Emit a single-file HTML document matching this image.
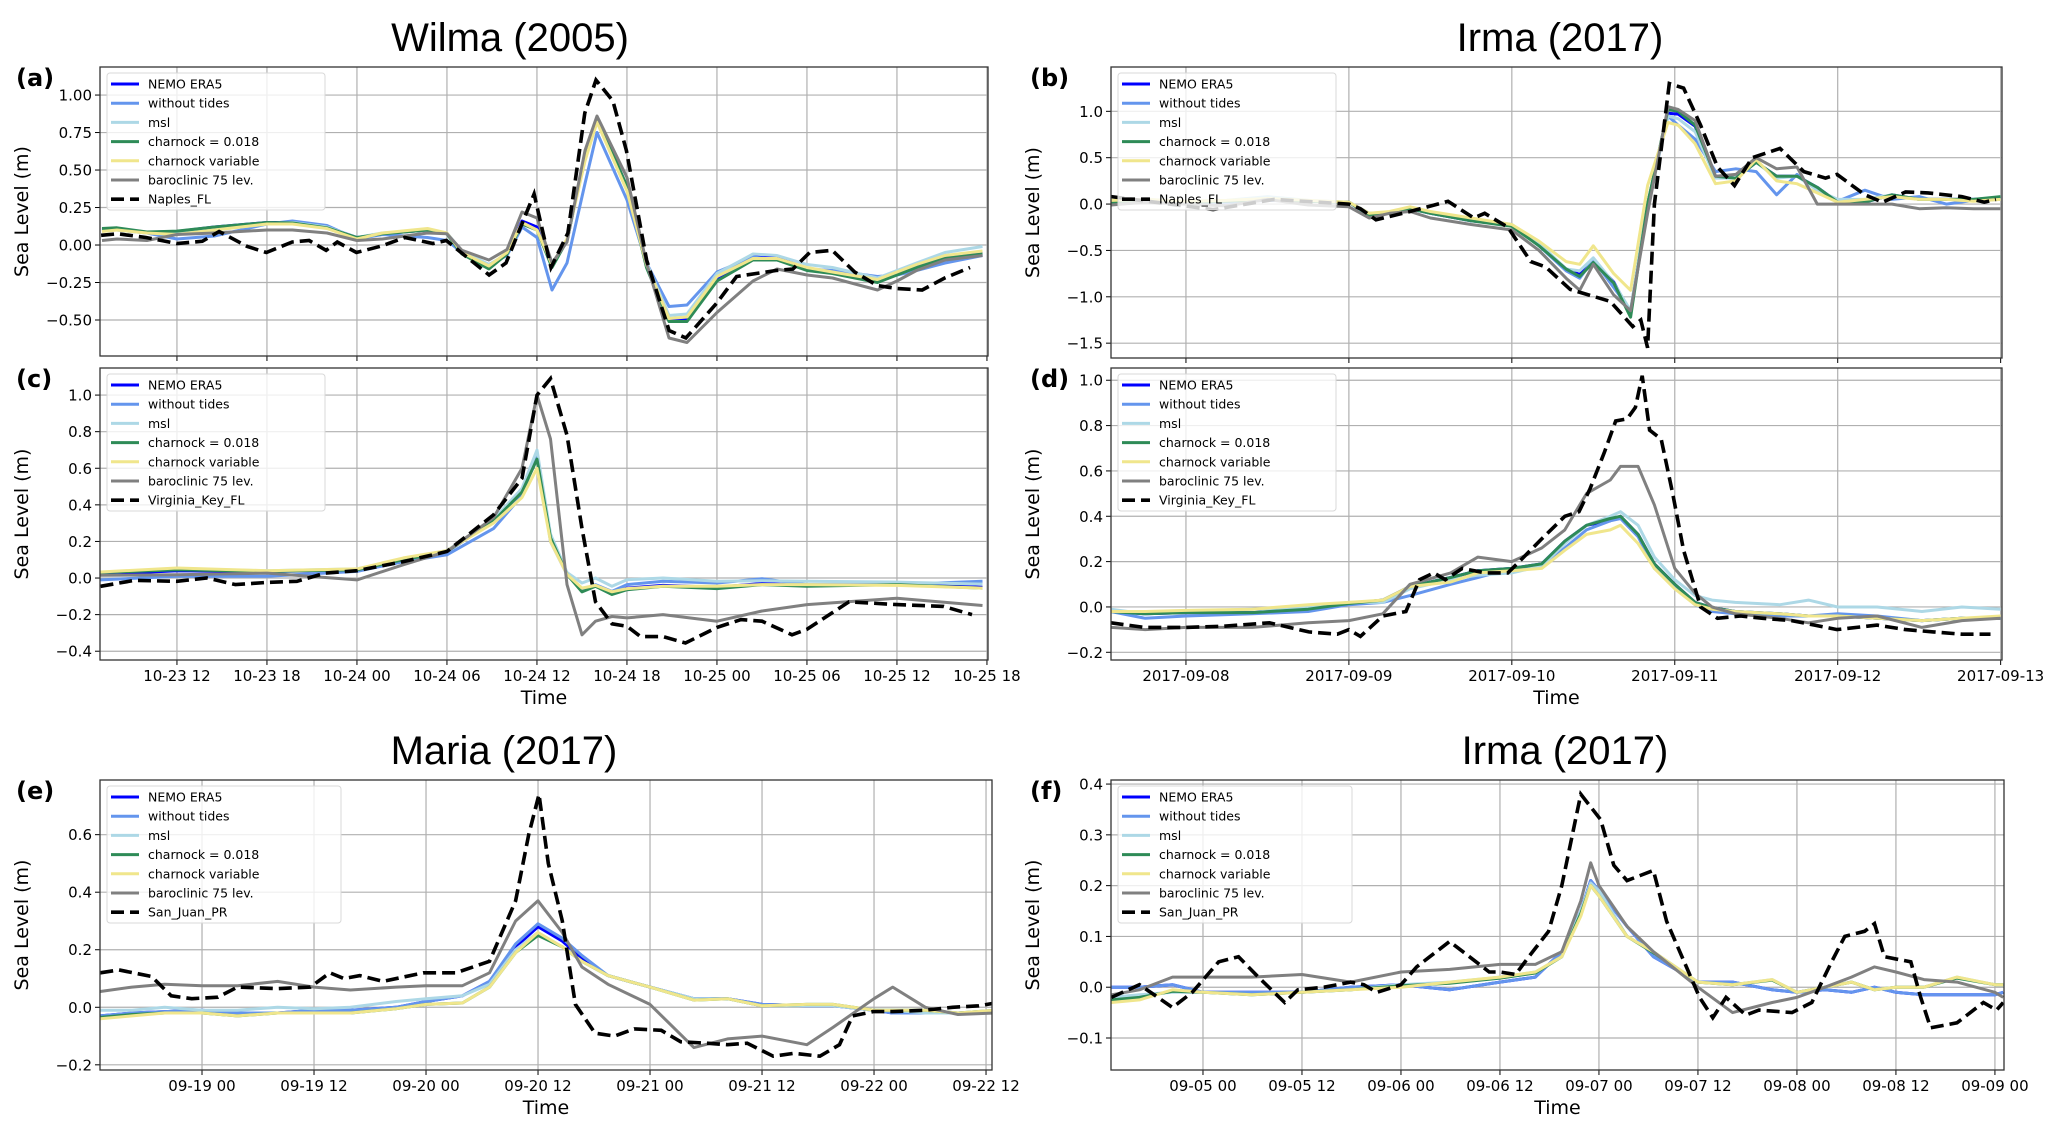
<!DOCTYPE html>
<html><head><meta charset="utf-8"><style>
html,body{margin:0;padding:0;background:#fff;}
svg{display:block;}
text{font-family:"DejaVu Sans","Liberation Sans",sans-serif;fill:#000;}
.title{font-family:"Liberation Sans",sans-serif;font-size:40px;}
</style></head><body>
<svg id="fig" width="2067" height="1134" viewBox="0 0 2067 1134" xmlns="http://www.w3.org/2000/svg">
<rect width="2067" height="1134" fill="#fff"/>
<text class="title" x="510" y="51" text-anchor="middle">Wilma (2005)</text>
<text class="title" x="1560" y="51" text-anchor="middle">Irma (2017)</text>
<text class="title" x="504" y="764" text-anchor="middle">Maria (2017)</text>
<text class="title" x="1565" y="764" text-anchor="middle">Irma (2017)</text>
</svg>
<script>
// ===== Panel (a) Wilma, Naples_FL (hours from 10-23 00) =====
const aHours=[7,8,10,12,14.5,18,19.7,22,24,25.7,28.7,30,31,32.8,34,35,36,37,38,39.2,40,42,43.3,44.8,46,48,50.4,52,54,55.7,58.7,60,61.3,63.2,65.7];
const aNemo=[.10,.11,.085,.09,.12,.15,.15,.12,.05,.075,.10,.075,-.05,-.14,-.06,.16,.12,-.13,.03,.6,.84,.39,-.14,-.49,-.49,-.22,-.08,-.08,-.16,-.18,-.22,-.18,-.14,-.08,-.06];
const aNoTides=[.10,.10,.08,.04,.06,.14,.16,.13,.04,.07,.05,.03,-.05,-.13,-.07,.12,.05,-.30,-.12,.41,.75,.30,-.12,-.41,-.40,-.18,-.08,-.10,-.16,-.17,-.21,-.20,-.17,-.12,-.07];
const aMsl=[.10,.10,.08,.08,.10,.14,.15,.12,.05,.08,.10,.08,-.04,-.13,-.06,.14,.10,-.13,.03,.58,.82,.38,-.12,-.47,-.46,-.19,-.06,-.07,-.13,-.15,-.22,-.17,-.12,-.05,-.01];
const aCharnock=[.11,.115,.087,.093,.12,.15,.147,.115,.05,.075,.10,.075,-.06,-.16,-.06,.14,.10,-.15,.03,.59,.85,.39,-.15,-.51,-.51,-.24,-.10,-.10,-.17,-.19,-.25,-.20,-.15,-.09,-.06];
const aCharnockVar=[.09,.10,.08,.07,.10,.14,.14,.11,.04,.08,.11,.08,-.05,-.14,-.05,.15,.10,-.13,.04,.56,.82,.36,-.13,-.49,-.48,-.21,-.09,-.09,-.15,-.18,-.23,-.18,-.13,-.07,-.04];
const aBaroclinic=[.03,.04,.03,.07,.08,.10,.10,.08,.03,.04,.08,.075,-.035,-.10,-.03,.22,.18,-.12,.02,.63,.86,.45,-.12,-.62,-.65,-.45,-.24,-.16,-.20,-.22,-.30,-.24,-.17,-.10,-.07];
const aObsHours=[6.94,8.06,9.94,12,13.69,14.81,16.69,17.96,19.69,20.81,21.94,22.69,23.96,25.69,27.19,29.06,29.96,30.94,32.81,33.94,35.81,36.94,38.06,39.19,39.94,41.06,41.96,43.31,44.81,45.93,47.96,49.31,51.93,53.06,54.18,55.68,57.18,58.68,59.96,61.68,63.18,64.87];
const aObs=[.065,.075,.05,.01,.025,.09,-.01,-.05,.02,.03,-.035,.02,-.05,-.005,.05,.01,.03,-.05,-.2,-.12,.34,-.15,.08,.88,1.10,.96,.63,-.1,-.57,-.62,-.39,-.21,-.17,-.16,-.05,-.035,-.18,-.27,-.29,-.30,-.22,-.15];
const wilmaTickHours=[12,18,24,30,36,42,48,54,60,66];
const wilmaTickLabels=["10-23 12","10-23 18","10-24 00","10-24 06","10-24 12","10-24 18","10-25 00","10-25 06","10-25 12","10-25 18"];
const aYTicks=[-0.5,-0.25,0,0.25,0.5,0.75,1.0];

// ===== Panel (b) Irma, Naples_FL (hours from 2017-09-08 00) =====
const bHours=[-11,-6,0,6,12,18,24,27,30,33,36,42,48,52,56,58,60,63,65.5,68,71,72.5,75,78,81,84,87,90,93,96,100,104,108,112,116,120];
const bNemo=[.02,.03,.02,.03,.05,.03,.02,-.12,-.10,-.05,-.10,-.18,-.23,-.44,-.70,-.76,-.61,-.84,-1.18,.0,.98,.97,.84,.3,.28,.45,.3,.3,.18,.02,.02,.1,.05,.05,.05,.07];
const bNoTides=[.02,.03,.02,.02,.04,.03,.02,-.10,-.10,-.05,-.10,-.18,-.22,-.45,-.72,-.80,-.60,-.90,-1.15,.0,.95,.85,.70,.35,.38,.35,.10,.32,.15,.03,.15,.05,.08,.0,.04,.05];
const bMsl=[.03,.05,.03,.04,.08,.04,.02,-.10,-.09,-.05,-.10,-.16,-.22,-.42,-.70,-.72,-.58,-.85,-1.15,.0,.95,.92,.78,.28,.28,.45,.28,.30,.15,.05,.05,.10,.05,.05,.05,.06];
const bCharnock=[.02,.03,.02,.03,.05,.03,.02,-.12,-.10,-.05,-.10,-.18,-.24,-.45,-.70,-.78,-.63,-.85,-1.22,.0,1.02,1.0,.85,.3,.28,.45,.30,.30,.18,.02,.02,.10,.05,.05,.05,.08];
const bCharnockVar=[.04,.05,.03,.04,.06,.04,.02,-.10,-.08,-.03,-.08,-.15,-.22,-.40,-.62,-.65,-.45,-.75,-.93,.2,.88,.85,.65,.22,.25,.48,.25,.22,.12,.02,.05,.08,.05,.05,.03,.05];
const bBaroclinic=[-.01,.02,.0,-.02,.05,-.01,-.03,-.15,-.10,-.08,-.15,-.22,-.28,-.50,-.80,-.93,-.65,-.98,-1.15,-.1,1.05,1.02,.90,.30,.32,.50,.38,.40,.0,.0,.0,.0,-.05,-.04,-.05,-.05];
const bObsHours=[-11,4,13,24,25.7,28,33,38.6,42.4,44,47.4,50.8,53,56.6,62.5,65.8,67,68,69,71.2,73.3,75.8,78.3,80.8,83.4,87.5,91,94.2,95.9,100,102.6,106,109.3,114.3,117.6,119.3];
const bObs=[.08,-.06,.05,.0,-.05,-.17,-.08,.03,-.15,-.10,-.25,-.62,-.68,-.92,-1.05,-1.32,-1.25,-1.55,.0,1.30,1.25,.85,.40,.20,.50,.60,.35,.28,.32,.10,.02,.13,.12,.08,.02,.05];
const irmaTickHours=[0,24,48,72,96,120];
const irmaTickLabels=["2017-09-08","2017-09-09","2017-09-10","2017-09-11","2017-09-12","2017-09-13"];
const bYTicks=[-1.5,-1.0,-0.5,0,0.5,1.0];

// ===== Panel (c) Wilma, Virginia_Key_FL =====
const cHours=[6.9,12,18,24,27.1,30,33.1,35,36,36.9,38,39,39.9,41,42,44.4,48,51,54,60,65.7];
const cNemo=[.02,.04,.035,.045,.10,.145,.31,.47,.66,.22,.02,-.065,-.04,-.08,-.055,-.04,-.05,-.03,-.04,-.035,-.05];
const cNoTides=[-.01,.01,.01,.036,.09,.127,.27,.45,.68,.20,.02,-.064,-.036,-.073,-.036,-.018,-.027,-.004,-.036,-.036,-.018];
const cMsl=[.03,.05,.04,.05,.10,.15,.32,.49,.70,.24,.03,-.027,.0,-.045,-.009,.0,-.018,-.015,-.018,-.022,-.033];
const cCharnock=[.03,.045,.036,.045,.10,.145,.31,.47,.65,.22,.02,-.076,-.045,-.09,-.064,-.045,-.058,-.036,-.045,-.036,-.055];
const cCharnockVar=[.033,.055,.04,.05,.11,.15,.30,.44,.60,.20,.02,-.055,-.04,-.075,-.058,-.045,-.045,-.036,-.036,-.04,-.055];
const cBaroclinic=[.015,.018,.027,-.01,.073,.145,.33,.60,1.0,.76,-.036,-.31,-.236,-.21,-.218,-.2,-.236,-.18,-.145,-.11,-.15];
const cObsHours=[6.9,9.15,12,14,15.9,18,20,21.9,24,27.1,30,33.1,35,36,36.9,38,39,39.9,41,42,42.9,44.4,45.9,48,49.6,51,53,54,56.8,60,63.1,65];
const cObs=[-.045,-.013,-.018,0,-.036,-.024,-.018,.027,.04,.09,.145,.345,.545,1.0,1.09,.78,.27,-.13,-.25,-.264,-.32,-.32,-.355,-.27,-.227,-.236,-.31,-.28,-.13,-.145,-.155,-.2];
const cYTicks=[-0.4,-0.2,0,0.2,0.4,0.6,0.8,1.0];

// ===== Panel (d) Irma, Virginia_Key_FL =====
const dHours=[-11.1,-6,0,9.8,18,24,29,33,39,43,48,52.4,55.8,59,62.5,64,66.6,69,72,75,77.5,80.9,87.5,91.7,96,101.8,108.4,114.3,120];
const dNemo=[-.02,-.03,-.025,-.025,-.01,.015,.03,.09,.13,.16,.17,.19,.29,.36,.38,.40,.32,.19,.10,.02,-.003,-.02,-.03,-.04,-.04,-.05,-.06,-.05,-.05];
const dNoTides=[-.02,-.05,-.04,-.03,-.02,.01,.02,.05,.10,.13,.17,.18,.26,.34,.38,.39,.31,.17,.09,.01,-.02,-.03,-.04,-.04,-.03,-.04,-.06,-.05,-.05];
const dMsl=[-.01,-.03,-.02,-.01,.0,.02,.02,.08,.12,.14,.15,.18,.28,.36,.40,.42,.36,.22,.12,.05,.03,.02,.01,.03,.0,.0,-.02,.0,-.01];
const dCharnock=[-.02,-.03,-.025,-.025,-.01,.015,.03,.09,.13,.16,.17,.19,.29,.36,.39,.40,.32,.19,.10,.02,-.003,-.02,-.03,-.04,-.04,-.05,-.06,-.05,-.05];
const dCharnockVar=[-.02,-.02,-.015,-.01,.01,.02,.03,.09,.11,.15,.16,.17,.25,.32,.34,.36,.28,.17,.08,.01,-.01,-.02,-.03,-.04,-.04,-.05,-.06,-.05,-.04];
const dBaroclinic=[-.09,-.10,-.09,-.09,-.07,-.06,-.03,.10,.15,.22,.20,.26,.34,.50,.56,.62,.62,.45,.17,.06,.0,-.03,-.05,-.07,-.05,-.04,-.09,-.06,-.05];
const dObsHours=[-11.1,-6.1,0,5.6,12.3,18.1,22.3,24,25.7,29,32.4,34.4,36.5,38.2,40.7,44.1,47.4,49.1,52.4,55.8,57.9,59.5,61.6,63.3,65,66.2,67.2,68.3,70,71.7,73.3,75.8,78.3,81.7,85,89.2,92.6,95.9,101.8,106,110.1,114.3,118.5];
const dObs=[-.07,-.09,-.09,-.085,-.07,-.11,-.12,-.1,-.13,-.04,-.02,.12,.15,.12,.17,.15,.15,.2,.30,.40,.42,.52,.68,.82,.83,.88,1.02,.78,.74,.5,.25,.0,-.05,-.04,-.05,-.06,-.08,-.1,-.08,-.10,-.11,-.12,-.12];
const dYTicks=[-0.2,0,0.2,0.4,0.6,0.8,1.0];

// ===== Panel (e) Maria, San_Juan_PR (hours from 09-19 00) =====
const eHours=[-10.9,-7.5,-4,0,3.8,8.1,12,15.9,20.8,24,27.9,30.8,33.6,36,38.6,40.7,43.5,48,52.7,56.3,60,64.8,67.6,72,74,77.5,81,85];
const eNemo=[-.03,-.02,-.015,-.01,-.02,-.02,-.01,-.01,0,.02,.04,.09,.21,.28,.23,.17,.11,.07,.03,.03,.01,.005,.005,-.01,-.02,-.02,-.02,-.015];
const eNoTides=[-.03,-.02,-.015,-.01,-.02,-.02,-.01,-.01,0,.02,.04,.09,.22,.29,.24,.18,.11,.07,.03,.03,.01,.005,.005,-.01,-.02,-.02,-.02,-.015];
const eMsl=[-.01,-.01,0,-.01,-.01,0,-.005,0,.02,.03,.04,.08,.2,.26,.21,.16,.11,.07,.03,.03,.005,.005,.005,-.01,-.01,-.02,-.02,-.015];
const eCharnock=[-.035,-.025,-.02,-.02,-.03,-.02,-.02,-.02,-.005,.01,.015,.07,.19,.25,.21,.16,.11,.07,.025,.03,.005,.01,.01,-.01,-.01,-.01,-.02,-.01];
const eCharnockVar=[-.04,-.03,-.02,-.02,-.03,-.02,-.02,-.02,-.005,.01,.015,.07,.19,.26,.21,.16,.11,.07,.025,.03,.005,.01,.01,-.01,-.01,-.01,-.02,-.01];
const eBaroclinic=[.055,.07,.08,.075,.075,.09,.07,.06,.07,.075,.075,.12,.30,.37,.26,.14,.08,.01,-.14,-.11,-.10,-.13,-.07,.03,.07,0,-.025,-.02];
const eObsHours=[-10.9,-8.9,-5.4,-3.3,-1.1,1.7,3.8,8.1,11.6,13.7,15.2,16.9,19.4,23.7,27.2,30.8,33.6,35,36.1,37.1,38.6,40,42.1,44.2,46.3,49.2,51.3,54.1,56.3,58.4,61.2,63.4,66.2,68.3,69.7,71.9,74,77.5,80.4,83.2,85];
const eObs=[.12,.13,.107,.04,.03,.035,.07,.065,.07,.12,.10,.11,.09,.12,.12,.16,.37,.60,.74,.50,.30,.01,-.09,-.10,-.075,-.08,-.12,-.125,-.13,-.125,-.17,-.16,-.17,-.13,-.03,-.015,-.015,-.01,0,.005,.015];
const mariaTickHours=[0,12,24,36,48,60,72,84];
const mariaTickLabels=["09-19 00","09-19 12","09-20 00","09-20 12","09-21 00","09-21 12","09-22 00","09-22 12"];
const eYTicks=[-0.2,0,0.2,0.4,0.6];

// ===== Panel (f) Irma, San_Juan_PR (hours from 09-05 00) =====
const fHours=[-11.1,-7.7,-3.7,0,5.9,12,17.9,24,29.9,36,40.3,43.5,45.8,47,48,51.4,54.6,60,64.2,69,72,75.4,78.6,81.4,84,87.4,91.4,96,97];
const fNemo=[0,0,.005,-.01,-.01,-.01,0,.005,-.005,.01,.02,.07,.15,.21,.19,.12,.06,.01,.01,-.005,-.01,-.005,-.01,0,-.01,-.015,-.015,-.015,-.01];
const fNoTides=[0,0,.005,-.01,-.01,-.01,0,.005,-.005,.01,.02,.07,.15,.21,.19,.12,.06,.01,.01,-.005,-.01,-.005,-.01,0,-.01,-.015,-.015,-.015,-.01];
const fMsl=[-.02,-.015,-.01,-.01,-.015,-.01,-.005,.005,.01,.02,.03,.06,.15,.205,.19,.10,.07,.01,.005,.015,-.01,0,.01,-.005,0,0,.02,.005,.005];
const fCharnock=[-.025,-.02,-.008,-.01,-.015,-.01,-.005,.003,.008,.018,.028,.06,.145,.2,.18,.1,.068,.01,.005,.014,-.01,0,.01,-.005,0,0,.018,.005,.005];
const fCharnockVar=[-.03,-.025,-.005,-.01,-.015,-.01,-.005,0,.01,.02,.03,.06,.14,.2,.18,.10,.07,.01,.005,.015,-.01,0,.01,-.005,0,0,.02,.005,.005];
const fBaroclinic=[-.015,-.005,.02,.02,.02,.025,.01,.03,.035,.045,.045,.07,.17,.245,.2,.12,.07,0,-.05,-.03,-.02,0,.02,.04,.03,.015,.01,-.01,-.02];
const fObsHours=[-11.1,-7.7,-3.7,-1.3,1.9,4.3,6.7,9.9,11.5,14.7,17.9,19.5,21.1,24,25.9,27.5,29.9,32.3,34.7,36,37.9,39.5,41.9,43.5,45.8,48.2,49.8,51.4,53,54.6,56.2,58.6,60.2,61.8,63.4,65.8,67.4,71.4,73.8,76.2,77.8,80.2,81.4,82.6,84.2,85.8,87,88.2,91.4,94.6,96.2,97];
const fObs=[-.02,.005,-.04,-.01,.05,.06,.02,-.03,-.005,0,.01,.005,-.01,.005,.04,.06,.09,.06,.03,.03,.025,.06,.11,.2,.38,.33,.24,.21,.22,.23,.13,.04,-.02,-.06,-.02,-.055,-.045,-.05,-.03,.05,.1,.11,.125,.06,.055,.05,-.02,-.08,-.07,-.03,-.045,-.03];
const irma2TickHours=[0,12,24,36,48,60,72,84,96];
const irma2TickLabels=["09-05 00","09-05 12","09-06 00","09-06 12","09-07 00","09-07 12","09-08 00","09-08 12","09-09 00"];
const fYTicks=[-0.1,0,0.1,0.2,0.3,0.4];

const legendLabels=["NEMO ERA5","without tides","msl","charnock = 0.018","charnock variable","baroclinic 75 lev."];
const seriesColors=["#0000ff","#6495ed","#add8e6","#2e8b57","#f0e68c","#808080"];
const seriesNames=["nemo-era5","without-tides","msl","charnock-0018","charnock-variable","baroclinic-75"];

const NS="http://www.w3.org/2000/svg";
const svg=document.getElementById('fig');
function el(tag,attrs,parent){const e=document.createElementNS(NS,tag);for(const k in attrs)e.setAttribute(k,attrs[k]);(parent||svg).appendChild(e);return e;}
function fmt(v,d){const s=Math.abs(v).toFixed(d);return (v<-1e-9?"\u2212":"")+s;}

function panel(p){
  const g=el('g',{});
  
  
  const xs=h=>p.L+(h-p.t0)/(p.t1-p.t0)*(p.R-p.L);
  const ys=v=>p.B-(v-p.y0)/(p.y1-p.y0)*(p.B-p.T);
  const clipId='clip'+p.id;
  const cp=el('clipPath',{id:clipId},g);el('rect',{x:p.L,y:p.T,width:p.R-p.L,height:p.B-p.T},cp);
  // grid
  p.xt.forEach((h,i)=>{const x=xs(h);
    const gl=el('line',{x1:x,x2:x,y1:p.T,y2:p.B,stroke:'#b0b0b0','stroke-width':1.2},g);
    
    el('line',{x1:x,x2:x,y1:p.B,y2:p.B+5,stroke:'#000','stroke-width':1},g);
    if(p.xl){const t=el('text',{x:x,y:p.B+21,'text-anchor':'middle','font-size':15},g);t.textContent=p.xl[i];
      }
  });
  p.yt.forEach(v=>{const y=ys(v);
    const gl=el('line',{x1:p.L,x2:p.R,y1:y,y2:y,stroke:'#b0b0b0','stroke-width':1.2},g);
    
    el('line',{x1:p.L-5,x2:p.L,y1:y,y2:y,stroke:'#000','stroke-width':1},g);
    const t=el('text',{x:p.L-8,y:y+5.5,'text-anchor':'end','font-size':15},g);t.textContent=fmt(v,p.yd);
    
  });
  // series
  const sg=el('g',{'clip-path':'url(#'+clipId+')'},g);
  p.series.forEach((arr,i)=>{
    const d=arr.map((v,k)=>(k?'L':'M')+xs(p.hours[k]).toFixed(1)+','+ys(v).toFixed(1)).join('');
    const path=el('path',{d:d,fill:'none',stroke:seriesColors[i],'stroke-width':3,'stroke-linejoin':'round'},sg);
    
    
  });
  const od=p.obs.map((v,k)=>(k?'L':'M')+xs(p.obsHours[k]).toFixed(1)+','+ys(v).toFixed(1)).join('');
  const op=el('path',{d:od,fill:'none',stroke:'#000','stroke-width':3.6,'stroke-dasharray':'13,6'},sg);
  
  
  // frame
  const fr=el('rect',{x:p.L,y:p.T,width:p.R-p.L,height:p.B-p.T,fill:'none',stroke:'#333','stroke-width':1.3},g);
  
  // legend
  const lg=el('g',{},g);
  
  const lx=p.L+7,ly=p.T+6;
  el('rect',{x:lx,y:ly,width:p.lw,height:137,rx:3,fill:'#fff','fill-opacity':0.8,stroke:'#d8d8d8','stroke-width':1},lg);
  const labels=legendLabels.concat([p.station]);
  labels.forEach((lab,i)=>{const yy=ly+11+i*19.2;
    const ent=el('g',{},lg);
    
    if(i<6) el('line',{x1:lx+4,x2:lx+32,y1:yy,y2:yy,stroke:seriesColors[i],'stroke-width':3},ent);
    else el('line',{x1:lx+4,x2:lx+32,y1:yy,y2:yy,stroke:'#000','stroke-width':3.6,'stroke-dasharray':'13,6'},ent);
    const t=el('text',{x:lx+41,y:yy+4.5,'font-size':12.5},ent);t.textContent=lab;
  });
  // y label
  const yl=el('text',{x:0,y:0,'text-anchor':'middle','font-size':19,transform:'translate('+(p.L-72)+','+((p.T+p.B)/2)+') rotate(-90)'},g);
  yl.textContent='Sea Level (m)';
  
  if(p.xl){const xl=el('text',{x:(p.L+p.R)/2,y:p.B+44,'text-anchor':'middle','font-size':19},g);xl.textContent='Time';
    }
  const pl=el('text',{x:p.labX,y:p.T+19,'font-size':24,'font-weight':'bold'},g);pl.textContent='('+p.id+')';
  
}

panel({id:'a',L:100,R:988,T:67,B:356,t0:6.87,t1:66.07,y0:-0.74,y1:1.187,yd:2,xt:wilmaTickHours,xl:null,yt:aYTicks,hours:aHours,
  series:[aNemo,aNoTides,aMsl,aCharnock,aCharnockVar,aBaroclinic],obsHours:aObsHours,obs:aObs,station:'Naples_FL',lw:218,labX:16});
panel({id:'c',L:100,R:988,T:368,B:660,t0:6.87,t1:66.07,y0:-0.448,y1:1.148,yd:1,xt:wilmaTickHours,xl:wilmaTickLabels,yt:cYTicks,hours:cHours,
  series:[cNemo,cNoTides,cMsl,cCharnock,cCharnockVar,cBaroclinic],obsHours:cObsHours,obs:cObs,station:'Virginia_Key_FL',lw:218,labX:16});
panel({id:'b',L:1111,R:2002,T:67,B:358,t0:-11.04,t1:120.2,y0:-1.66,y1:1.478,yd:1,xt:irmaTickHours,xl:null,yt:bYTicks,hours:bHours,
  series:[bNemo,bNoTides,bMsl,bCharnock,bCharnockVar,bBaroclinic],obsHours:bObsHours,obs:bObs,station:'Naples_FL',lw:218,labX:1030});
panel({id:'d',L:1111,R:2002,T:368,B:660,t0:-11.04,t1:120.2,y0:-0.234,y1:1.054,yd:1,xt:irmaTickHours,xl:irmaTickLabels,yt:dYTicks,hours:dHours,
  series:[dNemo,dNoTides,dMsl,dCharnock,dCharnockVar,dBaroclinic],obsHours:dObsHours,obs:dObs,station:'Virginia_Key_FL',lw:218,labX:1030});
panel({id:'e',L:100,R:992,T:780,B:1070,t0:-10.93,t1:84.64,y0:-0.218,y1:0.79,yd:1,xt:mariaTickHours,xl:mariaTickLabels,yt:eYTicks,hours:eHours,
  series:[eNemo,eNoTides,eMsl,eCharnock,eCharnockVar,eBaroclinic],obsHours:eObsHours,obs:eObs,station:'San_Juan_PR',lw:234,labX:16});
panel({id:'f',L:1111,R:2004,T:780,B:1070,t0:-11.15,t1:97.1,y0:-0.163,y1:0.408,yd:1,xt:irma2TickHours,xl:irma2TickLabels,yt:fYTicks,hours:fHours,
  series:[fNemo,fNoTides,fMsl,fCharnock,fCharnockVar,fBaroclinic],obsHours:fObsHours,obs:fObs,station:'San_Juan_PR',lw:234,labX:1030});
</script>
</body></html>
